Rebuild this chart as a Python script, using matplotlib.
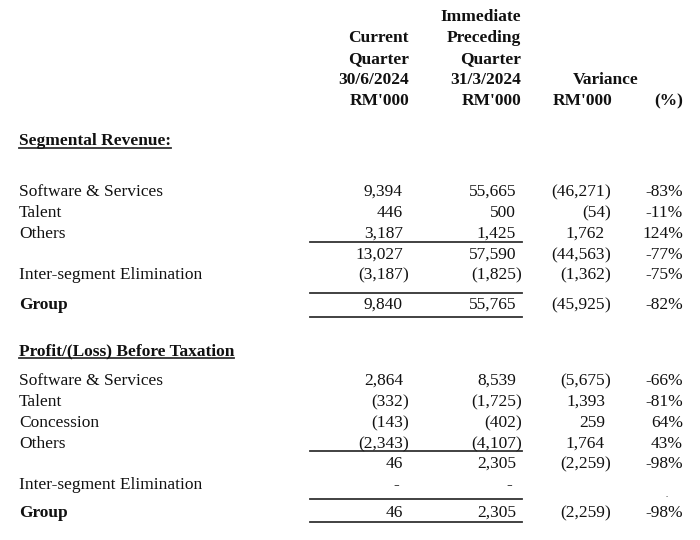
import matplotlib
matplotlib.use('Agg')
from matplotlib import pyplot as plt
from matplotlib.lines import Line2D

plt.rcParams['font.family'] = ['Liberation Serif', 'DejaVu Serif']

W, H = 700, 540

# column headers
head_cur = ["Current", "Quarter", "30/6/2024", "RM'000"]
head_prev = ["Immediate", "Preceding", "Quarter", "31/3/2024", "RM'000"]
head_var = ["Variance", "RM'000"]
head_pct = ["(%)"]

# segmental revenue
rev_labels = ["Software & Services", "Talent", "Others", "",
              "Inter-segment Elimination", "Group"]
rev_cur = [9394, 446, 3187, 13027, -3187, 9840]
rev_prev = [55665, 500, 1425, 57590, -1825, 55765]
rev_var = [-46271, -54, 1762, -44563, -1362, -45925]
rev_pct = [-83, -11, 124, -77, -75, -82]

# profit/(loss) before taxation
pbt_labels = ["Software & Services", "Talent", "Concession", "Others", "",
              "Inter-segment Elimination", "Group"]
pbt_cur = [2864, -332, -143, -2343, 46, None, 46]
pbt_prev = [8539, -1725, -402, -4107, 2305, None, 2305]
pbt_var = [-5675, 1393, 259, 1764, -2259, "", -2259]
pbt_pct = [-66, -81, 64, 43, -98, "", -98]

fig = plt.figure(figsize=(W / 100, H / 100), dpi=100)
FS = 12.5


def tx(x, y, s, ha='left', bold=False, size=FS):
    return fig.text(x / W, 1 - y / H, s, ha=ha, va='baseline', fontsize=size,
                    fontweight='bold' if bold else 'normal', color='#111111')


def hline(x0, x1, y, lw=1.3):
    fig.add_artist(Line2D([x0 / W, x1 / W], [1 - y / H, 1 - y / H],
                          color='#333333', lw=lw))


def num(x, y, v):
    # accounting style: digits right aligned, closing bracket hangs out
    if v is None:
        tx(x - 4, y, "-", ha='right')
    elif v == "":
        return
    elif v < 0:
        tx(x, y, "({:,}".format(-v), ha='right')
        tx(x - 0.5, y, ")", ha='left')
    else:
        tx(x, y, "{:,}".format(v), ha='right')


def pct(x, y, v):
    if v == "":
        return
    tx(x, y, "{}%".format(v), ha='right')


# headers
for i, s in enumerate(head_prev):
    tx(521, 21 + 21 * i, s, ha='right', bold=True)
for i, s in enumerate(head_cur):
    tx(409, 42 + 21 * i, s, ha='right', bold=True)
tx(639, 84, head_var[0], ha='right', bold=True)
tx(612, 105, head_var[1], ha='right', bold=True)
tx(683, 105, head_pct[0], ha='right', bold=True)

C1, C2, C3, C4 = 403, 516, 605, 683
renderer = fig.canvas.get_renderer()


def title(s, y):
    t = tx(19, y, s, bold=True)
    bb = t.get_window_extent(renderer=renderer)
    hline(19, bb.x1, y + 3)


def rows(labels, cur, prev, var, pc, ys):
    for i, lab in enumerate(labels):
        y = ys[i]
        tx(19, y, lab, bold=(lab == "Group"))
        num(C1, y, cur[i])
        num(C2, y, prev[i])
        num(C3, y, var[i])
        pct(C4, y, pc[i])


title("Segmental Revenue:", 145)
rows(rev_labels, rev_cur, rev_prev, rev_var, rev_pct,
     [196, 217, 238, 259, 279, 309])
hline(310, 522, 242)
hline(310, 522, 293)
hline(310, 522, 317)

title("Profit/(Loss) Before Taxation", 355)
rows(pbt_labels, pbt_cur, pbt_prev, pbt_var, pbt_pct,
     [385, 406, 427, 448, 468, 489, 517])
hline(310, 522, 451)
hline(310, 522, 499)
hline(310, 522, 522)
tx(667, 497, ".", ha='center', size=6)

fig.savefig("out.png", dpi=100, facecolor='white')
